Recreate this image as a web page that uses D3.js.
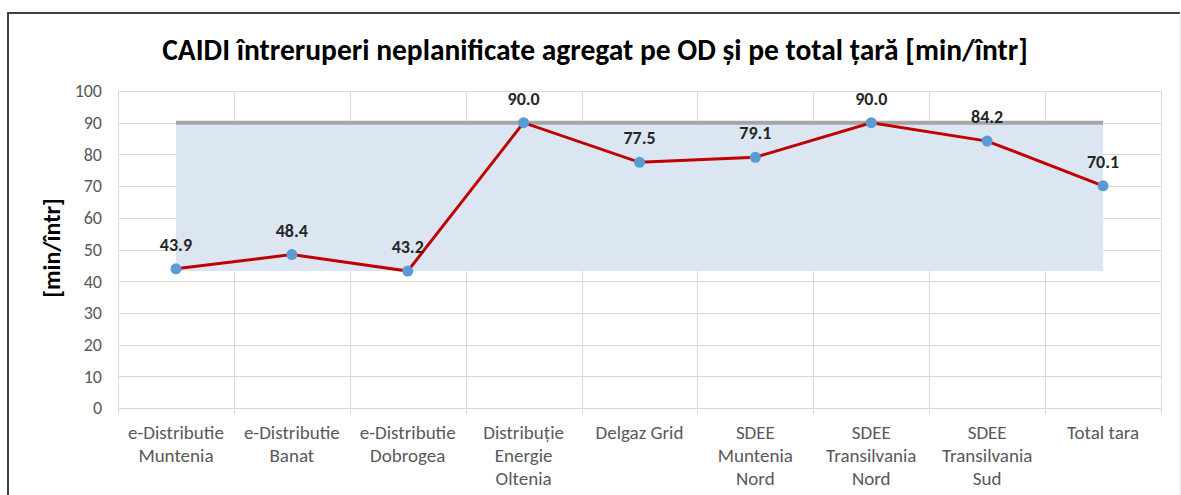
<!DOCTYPE html>
<html>
<head>
<meta charset="utf-8">
<script src="https://cdn.jsdelivr.net/npm/d3@7"></script>
<style>
  body { margin: 0; background: #fff; }
  text { font-family: Carlito, Calibri, "Open Sans", sans-serif; }
</style>
</head>
<body>
<svg id="chart" width="1181" height="495"></svg>
<script>
const width = 1181;
const height = 495;

const categories = [
    "e-Distributie Muntenia",
    "e-Distributie Banat",
    "e-Distributie Dobrogea",
    "Distribuție Energie Oltenia",
    "Delgaz Grid",
    "SDEE Muntenia Nord",
    "SDEE Transilvania Nord",
    "SDEE Transilvania Sud",
    "Total tara"
];
// randuri pentru etichetele de pe axa X
const labelLines = [
    ["e-Distributie", "Muntenia"],
    ["e-Distributie", "Banat"],
    ["e-Distributie", "Dobrogea"],
    ["Distribuție", "Energie", "Oltenia"],
    ["Delgaz Grid"],
    ["SDEE", "Muntenia", "Nord"],
    ["SDEE", "Transilvania", "Nord"],
    ["SDEE", "Transilvania", "Sud"],
    ["Total tara"]
];
const caidi = [43.9, 48.4, 43.2, 90.0, 77.5, 79.1, 90.0, 84.2, 70.1];
const yTicks = [0, 10, 20, 30, 40, 50, 60, 70, 80, 90, 100];

const margin = { top: 91, right: 20, bottom: 87, left: 118 };

const svg = d3.select("#chart");

// chenar exterior
svg.append("path")
    .attr("d", `M8,495 L8,13 L1180,13`)
    .attr("fill", "none")
    .attr("stroke", "#404040")
    .attr("stroke-width", 2);
svg.append("line")
    .attr("x1", 1180).attr("x2", 1180).attr("y1", 13).attr("y2", 495)
    .attr("stroke", "#e0e0e0");

const x = d3.scaleBand()
    .domain(categories)
    .range([margin.left, 1161]);

const y = d3.scaleLinear()
    .domain([0, 100])
    .range([height - margin.bottom, margin.top]);

const cx = d => x(d) + x.bandwidth() / 2;

// grila orizontala
svg.append("g")
    .selectAll("line")
    .data(yTicks)
    .enter()
    .append("line")
    .attr("x1", margin.left)
    .attr("x2", 1161)
    .attr("y1", d => Math.round(y(d)) + 0.5)
    .attr("y2", d => Math.round(y(d)) + 0.5)
    .attr("stroke", "#d9d9d9");

// grila verticala (la marginile categoriilor)
const bounds = categories.map(c => x(c)).concat([x.range()[1]]);
svg.append("g")
    .selectAll("line")
    .data(bounds)
    .enter()
    .append("line")
    .attr("x1", d => Math.round(d) + 0.5)
    .attr("x2", d => Math.round(d) + 0.5)
    .attr("y1", y(100))
    .attr("y2", y(0) + 6)
    .attr("stroke", "#d9d9d9");

// banda intre minim si maxim
const minV = d3.min(caidi), maxV = d3.max(caidi);
const first = categories[0], last = categories[categories.length - 1];
svg.append("rect")
    .attr("x", cx(first))
    .attr("y", y(maxV))
    .attr("width", cx(last) - cx(first))
    .attr("height", y(minV) - y(maxV))
    .attr("fill", "#dce6f2");

// linia gri la maxim
svg.append("line")
    .attr("x1", cx(first))
    .attr("x2", cx(last))
    .attr("y1", y(maxV))
    .attr("y2", y(maxV))
    .attr("stroke", "#a6a6a6")
    .attr("stroke-width", 4);

// etichete axa Y
svg.append("g")
    .selectAll("text")
    .data(yTicks)
    .enter()
    .append("text")
    .attr("x", 102)
    .attr("y", d => y(d))
    .attr("dy", "0.35em")
    .attr("text-anchor", "end")
    .attr("font-size", 18)
    .attr("fill", "#595959")
    .text(d => d);

// etichete axa X
const xl = svg.append("g")
    .selectAll("text")
    .data(categories)
    .enter()
    .append("text")
    .attr("text-anchor", "middle")
    .attr("font-size", 19)
    .attr("fill", "#595959");
xl.selectAll("tspan")
    .data((d, i) => labelLines[i].map(t => ({ t, c: d })))
    .enter()
    .append("tspan")
    .attr("x", d => cx(d.c))
    .attr("y", (d, j) => 439 + j * 23)
    .text(d => d.t);

// linia rosie
const line = d3.line()
    .x((d, i) => cx(categories[i]))
    .y(d => y(d));

svg.append("path")
    .datum(caidi)
    .attr("d", line)
    .attr("fill", "none")
    .attr("stroke", "#c00000")
    .attr("stroke-width", 3);

svg.append("g")
    .selectAll("circle")
    .data(caidi)
    .enter()
    .append("circle")
    .attr("cx", (d, i) => cx(categories[i]))
    .attr("cy", d => y(d))
    .attr("r", 5.5)
    .attr("fill", "#5b9bd5");

// valori
svg.append("g")
    .selectAll("text")
    .data(caidi)
    .enter()
    .append("text")
    .attr("x", (d, i) => cx(categories[i]))
    .attr("y", d => y(d) - 18)
    .attr("text-anchor", "middle")
    .attr("font-size", 18)
    .attr("font-weight", "bold")
    .attr("fill", "#262626")
    .text(d => d.toFixed(1));

// titlu
svg.append("text")
    .attr("x", 595)
    .attr("y", 60)
    .attr("text-anchor", "middle")
    .attr("font-size", 29.5)
    .attr("font-weight", "bold")
    .attr("fill", "#000")
    .text("CAIDI întreruperi neplanificate agregat pe OD și pe total țară [min/într]");

// titlu axa Y
svg.append("text")
    .attr("transform", `translate(52, 248) rotate(-90)`)
    .attr("text-anchor", "middle")
    .attr("dy", "0.35em")
    .attr("font-size", 24)
    .attr("font-weight", "bold")
    .attr("fill", "#000")
    .text("[min/într]");
</script>
</body>
</html>
